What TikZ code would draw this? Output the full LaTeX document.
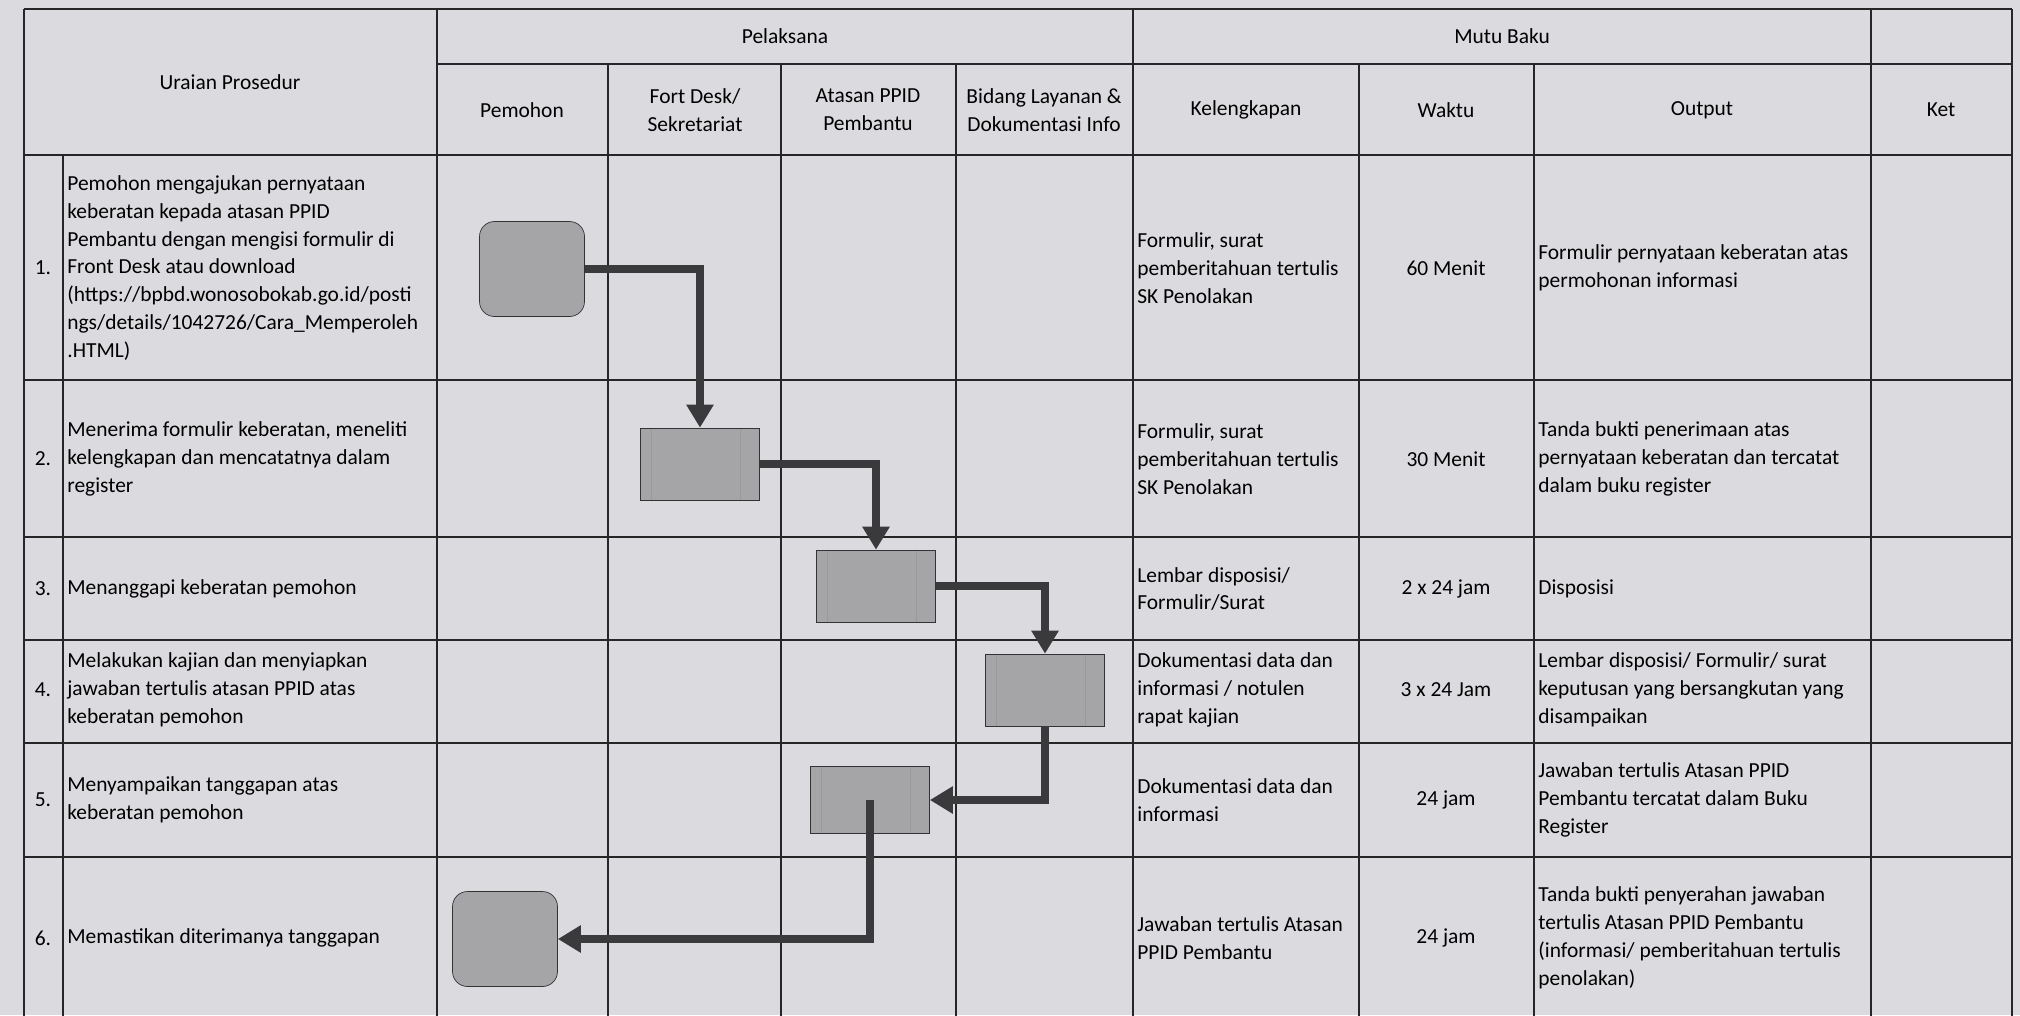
\documentclass[tikz,border=0pt]{standalone}
\usepackage{fontspec}
\setmainfont{Carlito}
\usetikzlibrary{arrows.meta,positioning}
\definecolor{paper}{RGB}{219,219,223}
\definecolor{boxgray}{RGB}{165,165,168}
\definecolor{ink}{RGB}{58,58,60}

\begin{document}
\begin{tikzpicture}[x=0.02cm, y=-0.02cm,
  grid/.style={line width=1pt, black!85},
  txt/.style={align=left, inner sep=0pt, font=\fontsize{12.2}{15.9}\selectfont},
  mid/.style={align=center, inner sep=0pt, font=\fontsize{12.2}{15.9}\selectfont},
  proc/.style={draw=black!80, fill=boxgray, minimum width=2.38cm, minimum height=1.44cm, inner sep=0pt,
    path picture={
      \draw[black!40] ([xshift=0.22cm]path picture bounding box.north west) -- ([xshift=0.22cm]path picture bounding box.south west);
      \draw[black!40] ([xshift=-0.38cm]path picture bounding box.north east) -- ([xshift=-0.38cm]path picture bounding box.south east);}},
  term/.style={draw=black!80, fill=boxgray, rounded corners=0.3cm, minimum width=2.1cm, minimum height=1.9cm, inner sep=0pt},
  flow/.style={ink, line width=0.15cm, -{Triangle[width=0.52cm,length=0.46cm]}}]
  \useasboundingbox (0,0) rectangle (2020,1015);
  \fill[paper] (0,0) rectangle (2020,1015);

  % Table lines
  \draw[grid] (24,9) -- (2012,9);
  \draw[grid] (437,64) -- (2012,64);
  \foreach \y in {155,380,537,640,743,857}
    \draw[grid] (24,\y) -- (2012,\y);
  \foreach \x in {24,437,1133,1871,2012}
    \draw[grid] (\x,9) -- (\x,1020);
  \foreach \x in {608,781,956,1359,1534}
    \draw[grid] (\x,64) -- (\x,1020);
  \draw[grid] (63,155) -- (63,1020);

  % Header
  \node[mid] (hUraian) at (230,82) {Uraian Prosedur};
  \node[mid] (hPelaksana) at (785,36) {Pelaksana};
  \node[mid] (hMutu) at (1502,36) {Mutu Baku};
  \node[mid] (hPemohon) at (522,110) {Pemohon};
  \node[mid] (hFront) at (695,110) {Fort Desk/\\Sekretariat};
  \node[mid] (hAtasan) at (868,110) {Atasan PPID\\Pembantu};
  \node[mid] (hBidang) at (1044,110) {Bidang Layanan \&\\Dokumentasi Info};
  \node[mid] (hKel) at (1246,110) {Kelengkapan};
  \node[mid] (hWaktu) at (1446,110) {Waktu};
  \node[mid] (hOutput) at (1702,110) {Output};
  \node[mid] (hKet) at (1941,110) {Ket};

  % Row 1
  \node[mid] (n1) at (43,268) {1.};
  \node[txt, anchor=west] (u1) at (67,268) {Pemohon mengajukan pernyataan\\keberatan kepada atasan PPID\\Pembantu dengan mengisi formulir di\\Front Desk atau download\\(https://bpbd.wonosobokab.go.id/posti\\ngs/details/1042726/Cara\_Memperoleh\\.HTML)};
  \node[txt, anchor=west] (k1) at (1137,268) {Formulir, surat\\pemberitahuan tertulis\\SK Penolakan};
  \node[mid] (w1) at (1446,268) {60 Menit};
  \node[txt, anchor=west] (o1) at (1538,268) {Formulir pernyataan keberatan atas\\permohonan informasi};

  % Row 2
  \node[mid] (n2) at (43,459) {2.};
  \node[txt, anchor=west] (u2) at (67,459) {Menerima formulir keberatan, meneliti\\kelengkapan dan mencatatnya dalam\\register};
  \node[txt, anchor=west] (k2) at (1137,459) {Formulir, surat\\pemberitahuan tertulis\\SK Penolakan};
  \node[mid] (w2) at (1446,459) {30 Menit};
  \node[txt, anchor=west] (o2) at (1538,459) {Tanda bukti penerimaan atas\\pernyataan keberatan dan tercatat\\dalam buku register};

  % Row 3
  \node[mid] (n3) at (43,589) {3.};
  \node[txt, anchor=west] (u3) at (67,589) {Menanggapi keberatan pemohon};
  \node[txt, anchor=west] (k3) at (1137,589) {Lembar disposisi/\\Formulir/Surat};
  \node[mid] (w3) at (1446,589) {2 x 24 jam};
  \node[txt, anchor=west] (o3) at (1538,589) {Disposisi};

  % Row 4
  \node[mid] (n4) at (43,690) {4.};
  \node[txt, anchor=west] (u4) at (67,690) {Melakukan kajian dan menyiapkan\\jawaban tertulis atasan PPID atas\\keberatan pemohon};
  \node[txt, anchor=west] (k4) at (1137,690) {Dokumentasi data dan\\informasi / notulen\\rapat kajian};
  \node[mid] (w4) at (1446,690) {3 x 24 Jam};
  \node[txt, anchor=west] (o4) at (1538,690) {Lembar disposisi/ Formulir/ surat\\keputusan yang bersangkutan yang\\disampaikan};

  % Row 5
  \node[mid] (n5) at (43,800) {5.};
  \node[txt, anchor=west] (u5) at (67,800) {Menyampaikan tanggapan atas\\keberatan pemohon};
  \node[txt, anchor=west] (k5) at (1137,800) {Dokumentasi data dan\\informasi};
  \node[mid] (w5) at (1446,800) {24 jam};
  \node[txt, anchor=west] (o5) at (1538,800) {Jawaban tertulis Atasan PPID\\Pembantu tercatat dalam Buku\\Register};

  % Row 6
  \node[mid] (n6) at (43,938) {6.};
  \node[txt, anchor=west] (u6) at (67,938) {Memastikan diterimanya tanggapan};
  \node[txt, anchor=west] (k6) at (1137,938) {Jawaban tertulis Atasan\\PPID Pembantu};
  \node[mid] (w6) at (1446,938) {24 jam};
  \node[txt, anchor=west] (o6) at (1538,938) {Tanda bukti penyerahan jawaban\\tertulis Atasan PPID Pembantu\\(informasi/ pemberitahuan tertulis\\penolakan)};

  % Flow symbols
  \node[term] (s1) at (532,269) {};
  \node[proc] (s2) at (700,464) {};
  \node[proc] (s3) at (876,586) {};
  \node[proc] (s4) at (1045,690) {};
  \node[proc, minimum height=1.34cm] (s5) at (870,800) {};
  \node[term] (s6) at (505,939) {};

  % Arrows
  \draw[flow] (s1.east) -| (s2.north);
  \draw[flow] (s2.east) -| (s3.north);
  \draw[flow] (s3.east) -| (s4.north);
  \draw[flow] (s4.south) |- (s5.east);
  \draw[flow] (s5.center) |- (s6.east);
\end{tikzpicture}
\end{document}
